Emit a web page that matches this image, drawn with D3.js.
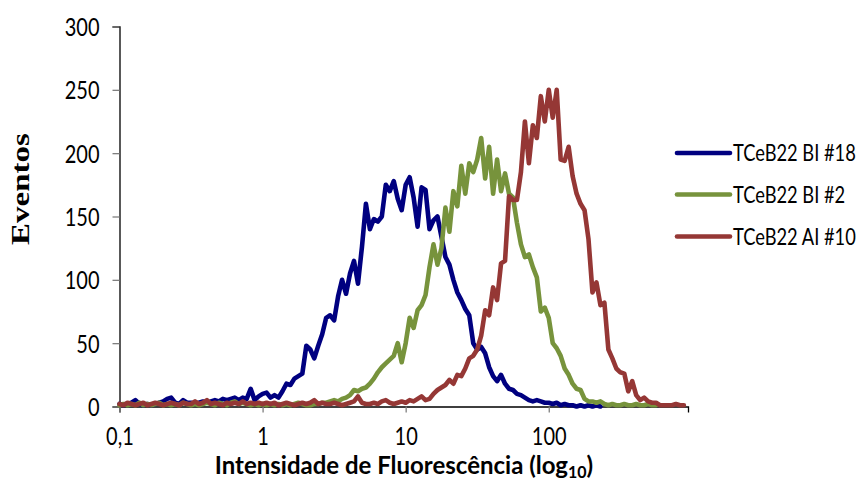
<!DOCTYPE html>
<html>
<head>
<meta charset="utf-8">
<script src="https://cdn.jsdelivr.net/npm/d3@7"></script>
<style>
  body { margin: 0; background: #fff; }
  text { font-family: Lato, "Open Sans", sans-serif; fill: #000; }
</style>
</head>
<body>
<svg id="chart" width="859" height="483"></svg>
<script>
// histogram counts per channel (36 channels per decade, starting at 0.1)
const seriesNames = ["TCeB22 BI #18", "TCeB22 BI #2", "TCeB22 AI #10"];
const seriesColors = ["#000080", "#77933c", "#953735"];

const bi18 = [2,1,2,3,5,2,1,2,1, 2,3,4,6,7,3,2,5,3,
  3,2,3,4,3,4,5,4,6,5,6,7,5,7,6,14,5,8,
  10,11,7,9,7,12,18,17,22,24,26,
  48,45,38,48,57,70,72,68,87,100,
  89,105,115,97,126,160,140,148,146,150,
  175,170,178,164,155,175,181,165,142,173,
  171,140,147,150,134,118,112,100,90,84,
  77,72,50,45,47,42,31,24,20,25,
  18,14,13,10,9,7,5,4,5,4,
  3,3,2,3,1,2,1,1,0,1,0,1,0,1,0];

const bi2 = [1,2,1,2,1,3,1,2,1,2,3,1,2,1,2,1,3,2,1,2,1,2,3,2,1,3,2,1,3,4,2,3,2,1,2,1,
  2,1,2,1,2,1,2,1,2,3,2,1,1,2,2,3,3,
  4,5,4,6,7,9,13,12,14,15,
  18,22,27,31,34,37,40,50,35,50,
  70,62,76,80,88,110,128,112,125,157,
  138,170,158,190,168,192,185,195,212,180,
  205,168,195,170,184,168,165,145,128,118,
  120,110,102,75,78,70,50,46,40,30,
  25,18,14,13,6,4,4,3,4,2,
  1,2,1,1,2,1,1,2,1,1,2,1,1];

const ai10 = [2,1,3,2,1,2,3,1,2,3,2,1,2,3,2,1,3,2,2,4,2,3,5,2,3,2,1,3,2,3,2,4,2,3,2,3,
  2,3,2,3,1,2,3,2,1,2,3,2,3,5,2,3,2,2,3,2,1,2,3,4,8,3,2,2,3,2,4,
  5,3,2,3,4,3,5,4,6,8,
  5,6,10,13,15,17,21,18,25,24,
  30,38,40,45,56,76,72,94,84,113,
  115,166,163,163,185,225,192,222,212,245,
  225,250,228,250,195,194,205,182,168,160,
  155,132,90,98,80,82,45,38,30,27,
  26,12,20,9,5,7,4,3,3,1,
  1,1,1,2,1,1];

const xTicks = [0.1, 1, 10, 100];
const yTicks = [0, 50, 100, 150, 200, 250, 300];

const allSeries = [bi18, bi2, ai10];
const stretch = 1.27;  // text in the original is taller than wide

const svg = d3.select("#chart");

// channel -> fluorescence value
const chan = i => 0.1 * Math.pow(10, i / 36);

let x = d3.scaleLog().domain([0.1, 940]).range([119.5, 688]);
let y = d3.scaleLinear().domain([0, 300]).range([406.5, 26.5]);

// y axis
const yAxis = svg.append("g")
    .attr("transform", "translate(119.5,0)")
    .call(d3.axisLeft(y).tickValues(yTicks).tickSize(7).tickPadding(13));
yAxis.select(".domain").attr("stroke", "#000").attr("stroke-width", 1.3);
yAxis.selectAll(".tick line").attr("stroke", "#7f7f7f").attr("stroke-width", 1.3);
yAxis.selectAll(".tick text")
    .attr("font-size", 20)
    .attr("font-family", null)
    .attr("dy", "0.36em")
    .attr("transform", `scale(1,${stretch})`);

// x axis
const xAxis = svg.append("g")
    .attr("transform", "translate(0,406.5)")
    .call(d3.axisBottom(x).tickValues(xTicks).tickSize(6).tickPadding(14)
        .tickFormat(d => String(d).replace(".", ",")));
xAxis.select(".domain").attr("stroke", "#000").attr("stroke-width", 1.3);
xAxis.selectAll(".tick line").attr("stroke", "#7f7f7f").attr("stroke-width", 1.3);
xAxis.selectAll(".tick text")
    .attr("font-size", 20)
    .attr("font-family", null)
    .attr("y", 20 / stretch)
    .attr("dy", "0.71em")
    .attr("transform", `scale(1,${stretch})`);

// histogram lines
const line = d3.line()
    .x((d, i) => x(chan(i)))
    .y(d => y(d));

allSeries.forEach((s, k) => {
    svg.append("path")
        .datum(s)
        .attr("fill", "none")
        .attr("stroke", seriesColors[k])
        .attr("stroke-width", 4.6)
        .attr("stroke-linejoin", "round")
        .attr("stroke-linecap", "round")
        .attr("d", line);
});

// legend
const legendY = [153, 194.5, 236.5];
seriesNames.forEach((name, k) => {
    const g = svg.append("g").attr("transform", `translate(677,${legendY[k]})`);
    g.append("line")
        .attr("x1", 0).attr("x2", 53)
        .attr("stroke", seriesColors[k])
        .attr("stroke-width", 4.6)
        .attr("stroke-linecap", "round");
    g.append("text")
        .attr("x", 56)
        .attr("dy", "0.36em")
        .attr("font-size", 18.3)
        .attr("transform", `scale(1,${stretch})`)
        .text(name);
});

// axis titles
svg.append("text")
    .attr("transform", `translate(29,189) rotate(-90) scale(${stretch},1)`)
    .attr("text-anchor", "middle")
    .style("font-family", "'Liberation Serif', 'DejaVu Serif', serif")
    .attr("font-weight", "bold")
    .attr("font-size", 26)
    .text("Eventos");

const xt = svg.append("text")
    .attr("transform", "translate(404,474) scale(1,1.05)")
    .attr("text-anchor", "middle")
    .attr("font-weight", "bold")
    .attr("font-size", 24);
xt.append("tspan").text("Intensidade de Fluorescência (log");
xt.append("tspan").attr("font-size", 16).attr("dy", 4).text("10");
xt.append("tspan").attr("dy", -4).text(")");
</script>
</body>
</html>
